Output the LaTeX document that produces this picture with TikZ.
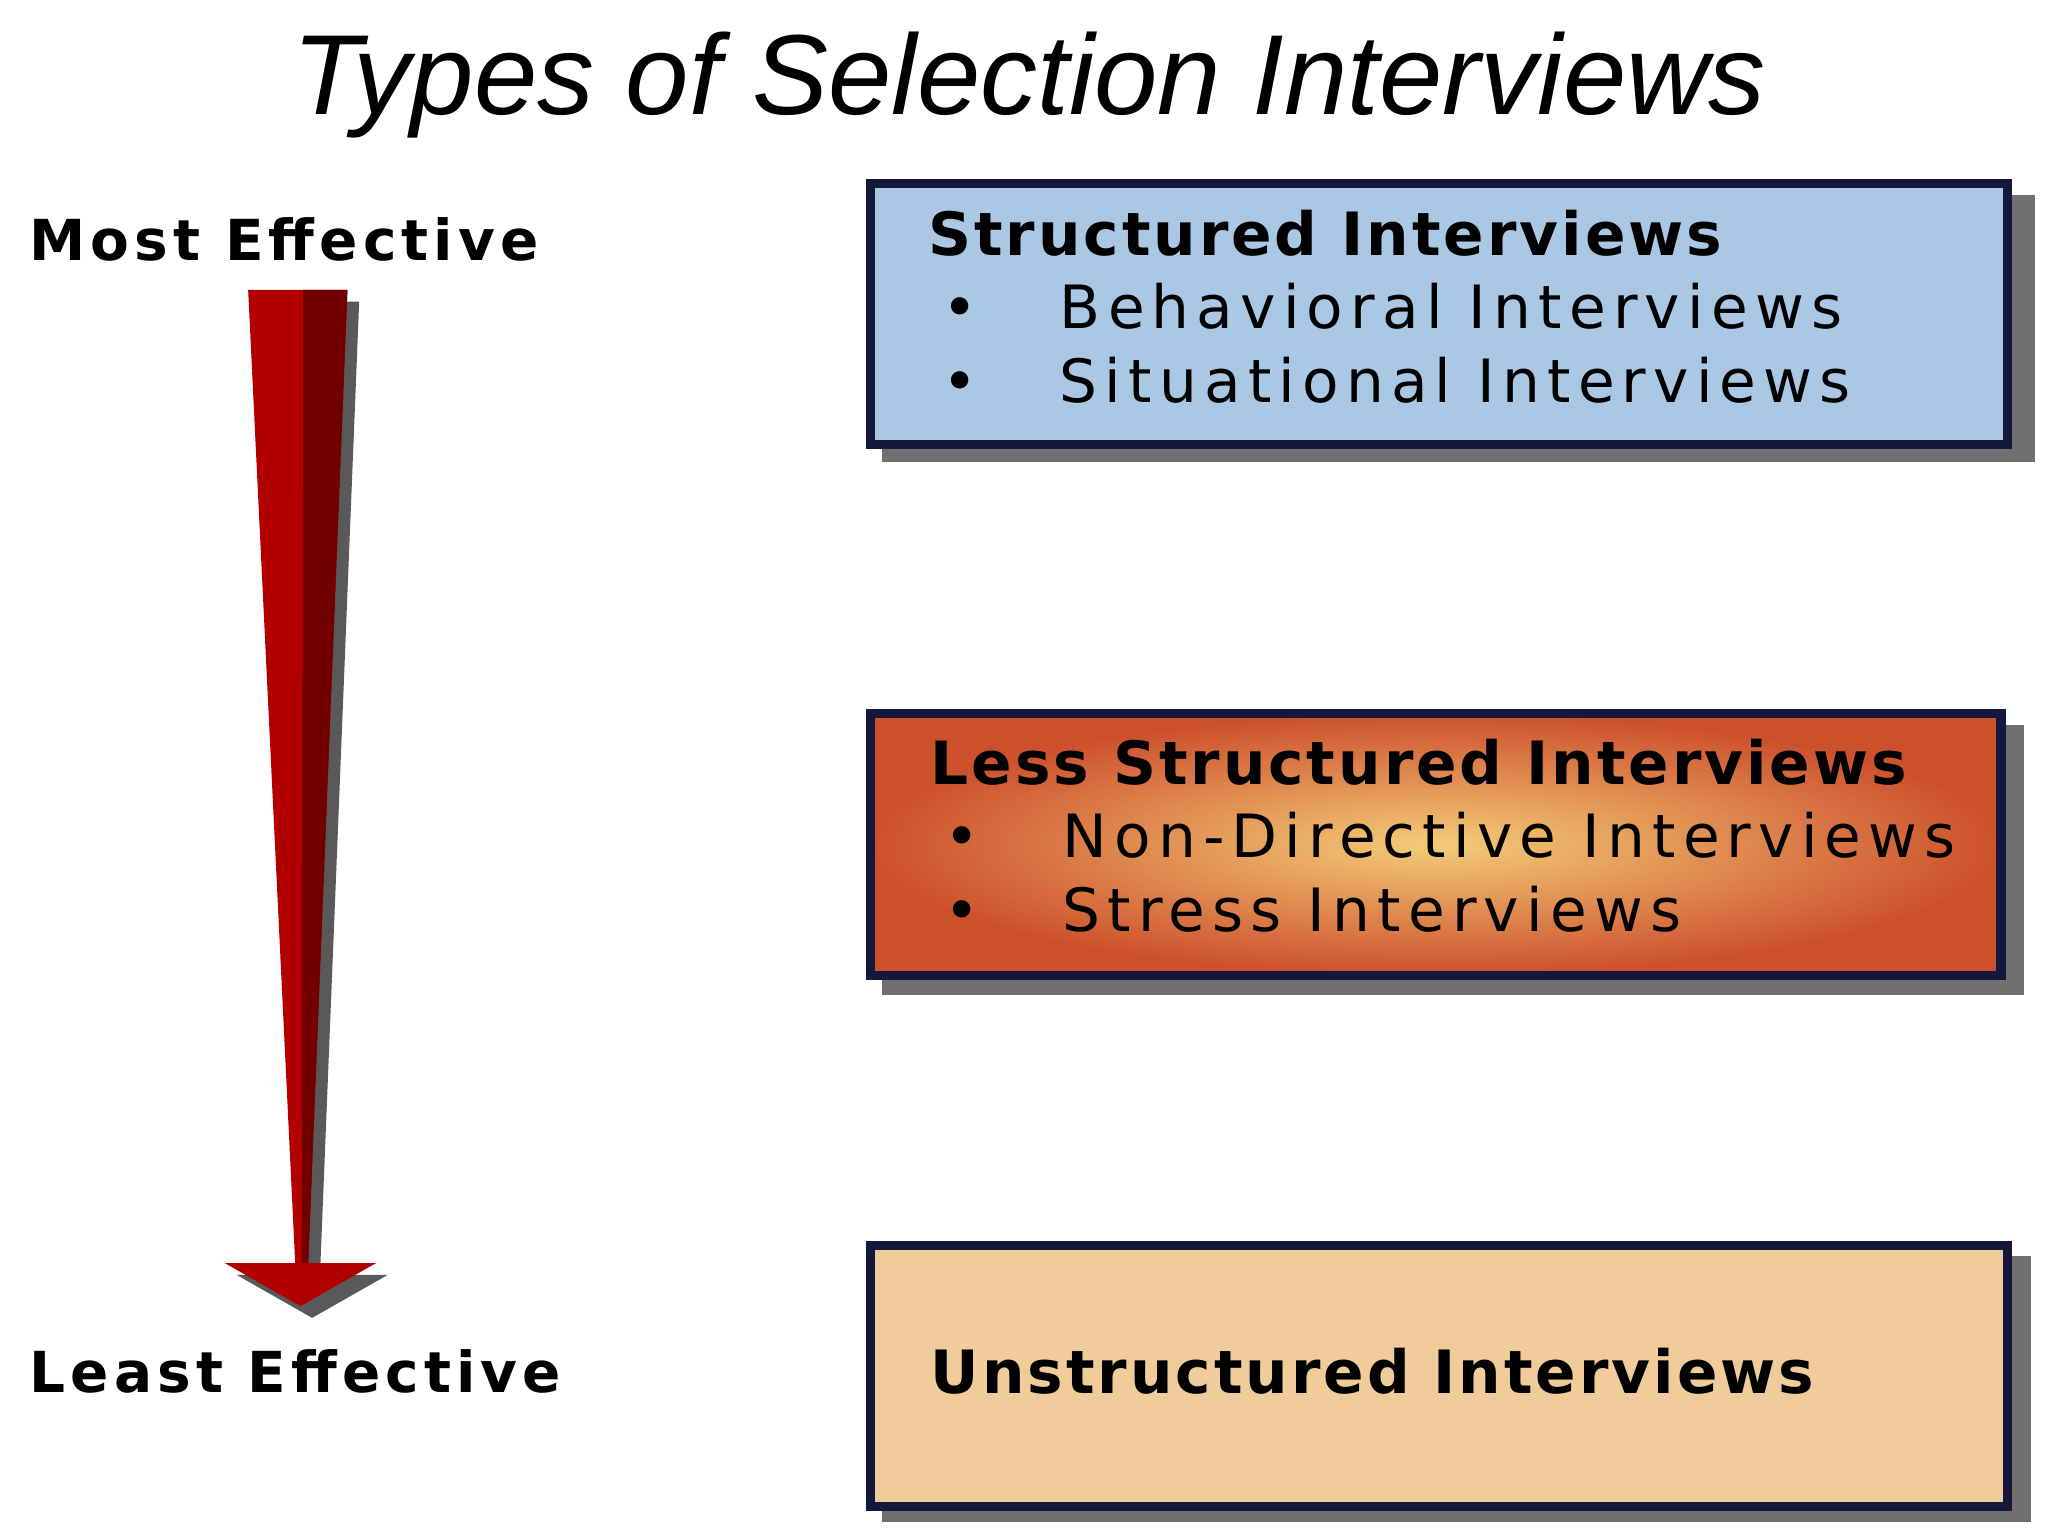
\documentclass[tikz,border=0pt]{standalone}
\usepackage{fontspec}
\setmainfont{Liberation Sans}
\newfontfamily\boxfont[LetterSpace=12]{DejaVu Sans}
\newfontfamily\boxbold[LetterSpace=5]{DejaVu Sans Bold}
\newfontfamily\lblfont[LetterSpace=9]{DejaVu Sans}
\begin{document}
\begin{tikzpicture}[x=0.01cm,y=-0.01cm,
  box/.style={draw={rgb,255:red,20;green,25;blue,60},line width=2pt,minimum width=8.7cm,minimum height=2cm,anchor=north west,inner sep=0},
  shad/.style={fill=black!75,opacity=0.75},
  lbl/.style={font=\lblfont\fontsize{12.3}{14}\selectfont\bfseries,anchor=west,inner sep=0},
  btxt/.style={font=\boxfont\fontsize{13}{17}\selectfont,anchor=north west,align=left,inner sep=0}]
\useasboundingbox (0,0) rectangle (1568,1176);
\node[font=\fontsize{24.8}{28}\selectfont\itshape] (title) at (788,65) {Types of Selection Interviews};
\node[lbl] (most) at (22,183) {Most Effective};
\node[lbl] (least) at (22,1050) {Least Effective};
% arrow shadow
\fill[black!65,shift={(9,9)}] (190,222) -- (266,222) -- (236,967) -- (288,967) -- (230,1000) -- (172,967) -- (226,967) -- cycle;
\fill[red!70!black] (190,222) -- (266,222) -- (236,967) -- (288,967) -- (230,1000) -- (172,967) -- (226,967) -- cycle;
\fill[red!45!black] (232,222) -- (266,222) -- (236,967) -- (231,967) -- cycle;
% boxes
\fill[shad] (675,149) rectangle (1558,354);
\node[box,fill={rgb,255:red,170;green,199;blue,228}] (b1) at (663,137) {};
\node[btxt] (t1) at (710,160) {{\boxbold Structured Interviews}\\[-1pt]\hspace{3pt}\textbullet\hspace{18pt}Behavioral Interviews\\[-1pt]\hspace{3pt}\textbullet\hspace{18pt}Situational Interviews};
\fill[shad] (675,555) rectangle (1550,762);
\node[box,minimum width=8.65cm,inner color={rgb,255:red,244;green,204;blue,120},outer color={rgb,255:red,205;green,80;blue,45}] (b2) at (663,543) {};
\node[btxt] (t2) at (712,565) {{\boxbold Less Structured Interviews}\\[-1pt]\hspace{3pt}\textbullet\hspace{18pt}Non-Directive Interviews\\[-1pt]\hspace{3pt}\textbullet\hspace{18pt}Stress Interviews};
\fill[shad] (675,962) rectangle (1555,1165);
\node[box,fill={rgb,255:red,239;green,204;blue,153}] (b3) at (663,950) {};
\node[btxt,anchor=west] (t3) at (712,1050) {{\boxbold Unstructured Interviews}};
\end{tikzpicture}
\end{document}
